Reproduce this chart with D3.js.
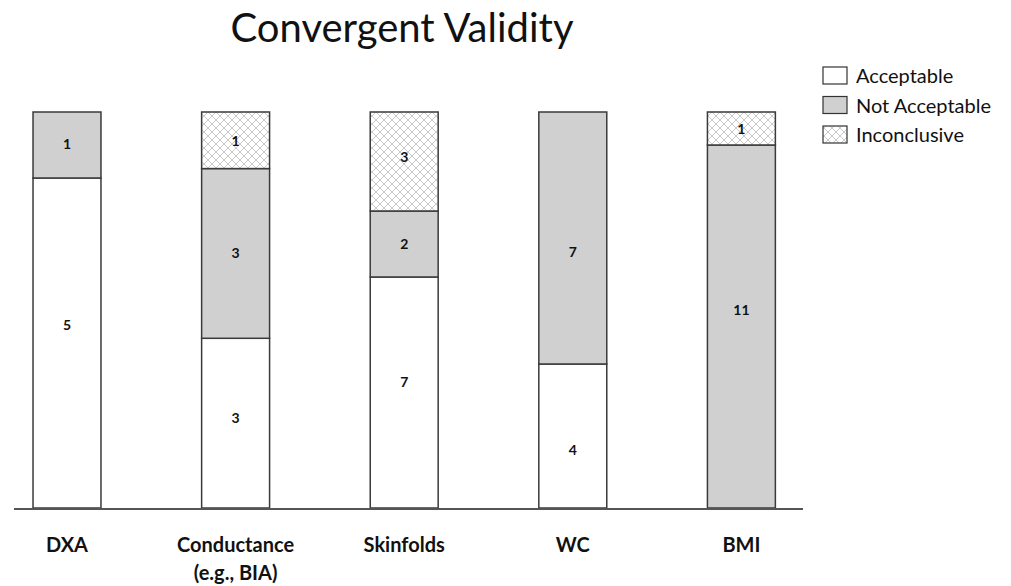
<!DOCTYPE html>
<html><head><meta charset="utf-8">
<script src="https://cdn.jsdelivr.net/npm/d3@7"></script>
<style>body{margin:0;background:#fff}svg{display:block}</style>
</head><body>
<svg id="c" width="1011" height="586"></svg>
<script>
const categories = ["DXA", "Conductance\n(e.g., BIA)", "Skinfolds", "WC", "BMI"];
const acceptable = [5, 3, 7, 4, 0];
const notAcceptable = [1, 3, 2, 7, 11];
const inconclusive = [0, 1, 3, 0, 1];
const seriesNames = ["Acceptable", "Not Acceptable", "Inconclusive"];
const titleText = "Convergent Validity";

const svg = d3.select("#c");
const defs = svg.append("defs");
const pat = defs.append("pattern").attr("id","hatch").attr("patternUnits","userSpaceOnUse")
  .attr("width",8).attr("height",8);
pat.append("rect").attr("width",8).attr("height",8).attr("fill","#fff");
pat.append("path").attr("d","M0,0 L8,8 M8,0 L0,8 M-4,4 L4,-4 M4,12 L12,4")
  .attr("stroke","#c4c4c4").attr("stroke-width",0.9).attr("fill","none");

const data = categories.map((c,i)=>({cat:c, Acceptable:acceptable[i], "Not Acceptable":notAcceptable[i], Inconclusive:inconclusive[i], total:acceptable[i]+notAcceptable[i]+inconclusive[i]}));
const norm = data.map(d=>{const o={cat:d.cat}; seriesNames.forEach(s=>o[s]=d[s]/d.total); return o;});
const stack = d3.stack().keys(seriesNames)(norm);

const x = d3.scaleBand().domain(categories).range([-17.3, 825.7]).paddingInner(0.597).paddingOuter(0.2985);
const y = d3.scaleLinear().domain([0,1]).range([508, 112]);
const fills = {"Acceptable":"#ffffff","Not Acceptable":"#d0d0d0","Inconclusive":"url(#hatch)"};
// manual label nudges (px) per series, per category, as placed in the original
const nudge = {
  "Acceptable":     [-18, -5, -11, 14, 0],
  "Not Acceptable": [-1, 0, 0, 14, -17],
  "Inconclusive":   [0, 1, -5, 0, 0]
};

const g = svg.append("g");
stack.forEach((layer)=>{
  const key = layer.key;
  layer.forEach((seg,i)=>{
    const v = data[i][key];
    if(!v) return;
    g.append("rect").attr("x",x(categories[i])).attr("width",x.bandwidth())
      .attr("y",y(seg[1])).attr("height",y(seg[0])-y(seg[1]))
      .attr("fill",fills[key]).attr("stroke","#3a3a3a").attr("stroke-width",1.5);
    g.append("text").attr("x",x(categories[i])+x.bandwidth()/2)
      .attr("y",(y(seg[0])+y(seg[1]))/2+5+nudge[key][i])
      .attr("text-anchor","middle").attr("font-family","Lato, sans-serif")
      .attr("font-weight","bold").attr("font-size",14).attr("fill","#111").text(v);
  });
});

// axis line
svg.append("line").attr("x1",14).attr("x2",803).attr("y1",509).attr("y2",509)
  .attr("stroke","#555").attr("stroke-width",2);

// category labels
categories.forEach(c=>{
  const lines = c.split("\n");
  const t = svg.append("text").attr("x",x(c)+x.bandwidth()/2).attr("y",552)
    .attr("text-anchor","middle").attr("font-family","Lato, sans-serif")
    .attr("font-weight","bold").attr("font-size",20).attr("fill","#111");
  lines.forEach((l,k)=>t.append("tspan").attr("x",x(c)+x.bandwidth()/2).attr("dy",k?28:0).text(l));
});

// title
svg.append("text").attr("x",402).attr("y",42).attr("text-anchor","middle")
  .attr("font-family","Lato, sans-serif").attr("font-size",40).attr("fill","#111").text(titleText);

// legend
const leg = svg.append("g");
seriesNames.forEach((s,i)=>{
  const yy = 67 + i*29.5;
  leg.append("rect").attr("x",823).attr("y",yy).attr("width",24).attr("height",17)
    .attr("fill",fills[s]).attr("stroke","#333").attr("stroke-width",1.2);
  leg.append("text").attr("x",856).attr("y",yy+16).attr("font-family","Lato, sans-serif")
    .attr("font-size",20).attr("fill","#111").text(s);
});
</script>
</body></html>
